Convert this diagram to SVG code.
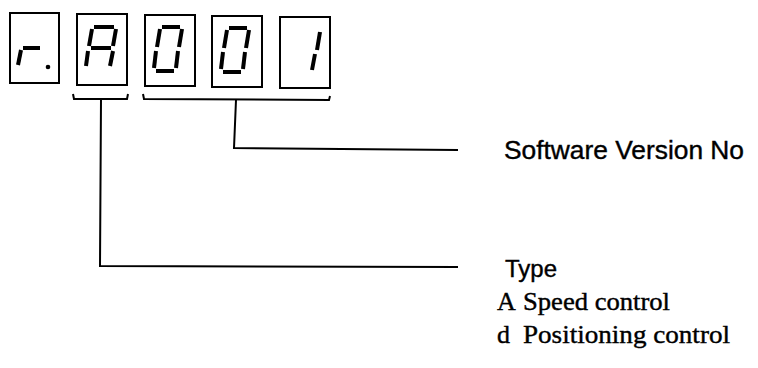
<svg xmlns="http://www.w3.org/2000/svg" width="758" height="368" viewBox="0 0 758 368">
<style>
.box{fill:#fff;stroke:#000;stroke-width:2}
.seg{stroke:#000;stroke-width:4;stroke-linecap:butt;fill:none}
.ln{stroke:#000;stroke-width:2;fill:none}
.sans{font-family:"Liberation Sans",Arial,sans-serif;fill:#000;stroke:#000;stroke-width:0.4}
.serif{font-family:"Liberation Serif","Times New Roman",serif;fill:#000;stroke:#000;stroke-width:0.4}
</style>
<rect width="758" height="368" fill="#fff"/>
<g id="digit-r">
<rect class="box" x="10" y="13" width="49" height="70"/>
<line class="seg" x1="21" y1="50" x2="18" y2="65"/>
<line class="seg" x1="23" y1="48" x2="40" y2="48"/>
<circle cx="48" cy="67" r="2.3" fill="#000"/>
</g>
<g id="digit-A">
<rect class="box" x="77" y="14" width="50" height="71"/>
<line class="seg" x1="94" y1="27" x2="114" y2="27"/>
<line class="seg" x1="92" y1="29" x2="89" y2="46"/>
<line class="seg" x1="116" y1="29" x2="113" y2="46"/>
<line class="seg" x1="91" y1="48" x2="111" y2="48"/>
<line class="seg" x1="88" y1="51" x2="86" y2="66"/>
<line class="seg" x1="113" y1="51" x2="110" y2="66"/>
</g>
<g id="digit-0a">
<rect class="box" x="145" y="15" width="50" height="71"/>
<line class="seg" x1="162" y1="27" x2="180" y2="27"/>
<line class="seg" x1="160" y1="29" x2="157" y2="47"/>
<line class="seg" x1="182" y1="29" x2="179" y2="47"/>
<line class="seg" x1="156" y1="51" x2="154" y2="68"/>
<line class="seg" x1="178" y1="51" x2="176" y2="68"/>
<line class="seg" x1="156" y1="71" x2="174" y2="71"/>
</g>
<g id="digit-0b">
<rect class="box" x="212" y="16" width="50" height="71"/>
<line class="seg" x1="229" y1="28" x2="247" y2="28"/>
<line class="seg" x1="227" y1="30" x2="224" y2="48"/>
<line class="seg" x1="249" y1="30" x2="246" y2="48"/>
<line class="seg" x1="223" y1="52" x2="221" y2="69"/>
<line class="seg" x1="245" y1="52" x2="243" y2="69"/>
<line class="seg" x1="223" y1="72" x2="241" y2="72"/>
</g>
<g id="digit-1">
<rect class="box" x="280" y="17" width="50" height="71"/>
<line class="seg" x1="320" y1="32" x2="317" y2="50"/>
<line class="seg" x1="315" y1="54" x2="312" y2="70"/>
</g>
<g id="connectors">
<path class="ln" d="M73,94 L74,99 L127,99 L128,94"/>
<path class="ln" d="M143,94 L144,99 L329,100 L330,96"/>
<path class="ln" d="M101,99 L100,266 L458,267"/>
<path class="ln" d="M236,100 L234,148 L458,150"/>
</g>
<g id="label-version">
<text class="sans" x="504" y="159" font-size="26" textLength="240" lengthAdjust="spacingAndGlyphs">Software Version No</text>
</g>
<g id="label-type">
<text class="sans" x="505" y="277" font-size="24">Type</text>
<text class="serif" x="497" y="310" font-size="26">A</text>
<text class="serif" x="523" y="310" font-size="26" textLength="147" lengthAdjust="spacingAndGlyphs">Speed control</text>
<text class="serif" x="497" y="343" font-size="26">d</text>
<text class="serif" x="523" y="343" font-size="26" textLength="207" lengthAdjust="spacingAndGlyphs">Positioning control</text>
</g>
</svg>
